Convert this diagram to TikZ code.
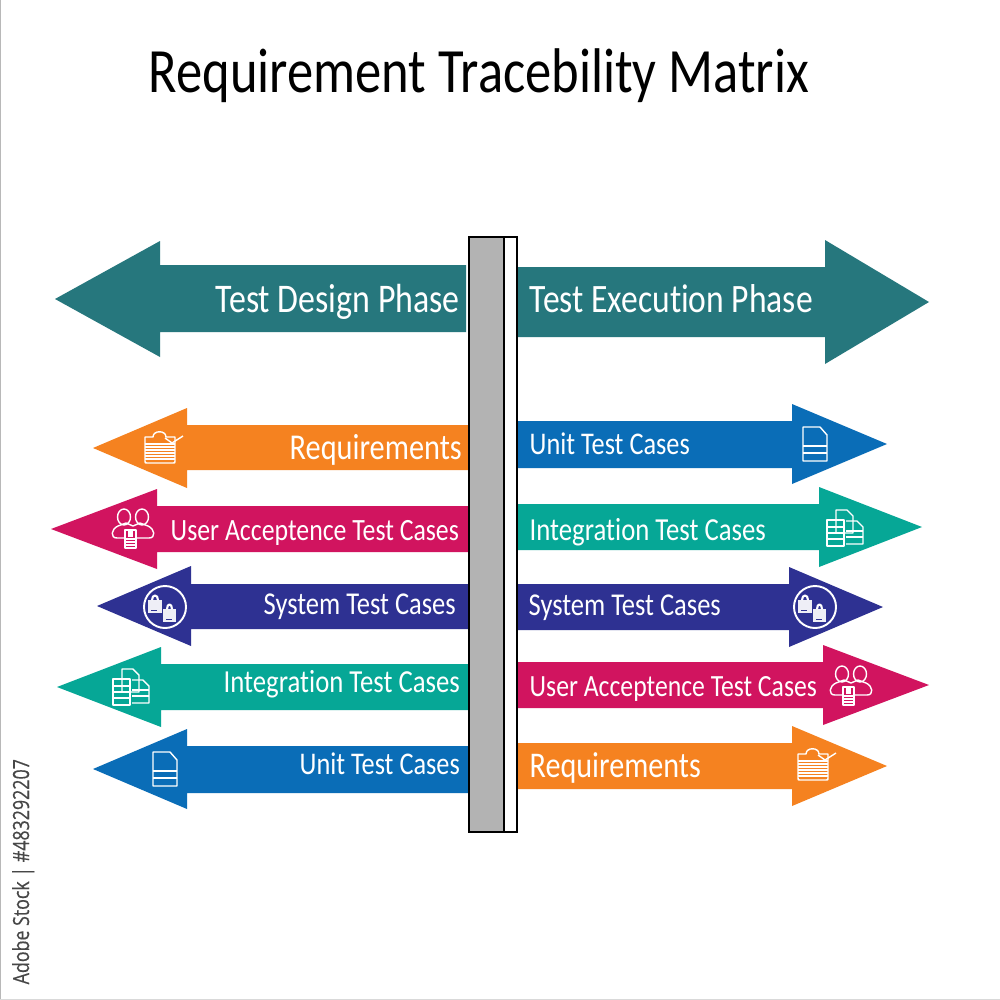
\documentclass[tikz,border=0pt]{standalone}
\usepackage{graphicx}
\usepackage{fontspec}
\setmainfont[Ligatures={NoCommon}]{Carlito}
\newfontfamily\stockfont[FakeBold=0.4]{Open Sans}
\newdimen\pxlen \pxlen=0.28453pt
\newcommand{\fitw}[2]{\scalebox{1}[1.2]{\resizebox{#1\pxlen}{!}{#2}}}
\definecolor{cphase}{HTML}{26777D}
\definecolor{corange}{HTML}{F58220}
\definecolor{cmagenta}{HTML}{D1145F}
\definecolor{cnavy}{HTML}{2E3192}
\definecolor{cteal}{HTML}{06A796}
\definecolor{cblue}{HTML}{0A6DB7}
\definecolor{cpillar}{HTML}{B3B3B3}
\tikzset{
  lbl/.style={anchor=base west,inner sep=0pt,text=white,font=\fontsize{14}{14}\selectfont},
  iconline/.style={draw=white,line width=0.4pt,fill=none,line join=round},
  pillarline/.style={draw=black,line width=0.6pt},
  pics/docicon/.style={code={
    \path[iconline] (-12,-17) -- (5,-17) -- (12,-9) -- (12,17) -- (-12,17) -- cycle;
    \path[iconline] (-12,2) -- (12,2) (-12,9) -- (12,9);
  }},
  pics/clipicon/.style={code={
    \path[iconline] (-15,-13) -- (-7,-13) .. controls (-7,-20) and (6,-20) .. (6,-13) -- (15,-13) -- (15,11) .. controls (15,13) .. (13,13) -- (-13,13) .. controls (-15,13) .. (-15,11) -- cycle;
    \path[iconline] (-15,-6) -- (15,-6) (-15,-3) -- (15,-3) (-15,0) -- (15,0) (-15,3) -- (15,3) (-15,6) -- (15,6) (-15,9) -- (15,9);
    \path[iconline] (5,-12) -- (12,-7) -- (23,-14);
  }},
  pics/usersicon/.style={code={
    \path[iconline] (-9,-12) ellipse[x radius=6.5,y radius=8];
    \path[iconline] (9,-12) ellipse[x radius=6.5,y radius=8];
    \path[iconline] (-8,9) -- (-16,9) .. controls (-23,9) and (-22,0) .. (-15,-3) -- (-7,-6) -- (0,-3) -- (7,-6) -- (15,-3) .. controls (22,0) and (23,9) .. (16,9) -- (3,9);
    \path[iconline,fill=cmagenta] (-8,1) rectangle (3,19);
    \path[fill=white] (-5,1) rectangle (0,8);
    \foreach \yy in {10,13,16} \path[iconline] (-8,\yy) -- (3,\yy);
  }},
  pics/bagicon/.style={code={
    \path[iconline,line width=0.55pt] (0,0) circle[radius=21];
    \path[fill=white,opacity=.92] (-17,-7) rectangle (-3,6);
    \path[iconline,line width=0.6pt] (-13,-7) .. controls (-13,-13) and (-7,-13) .. (-7,-7);
    \path[draw=cnavy,line width=0.2pt] (-14,3) -- (-8,3);
    \path[fill=white,opacity=.92] (-2,2) rectangle (11,15);
    \path[iconline,line width=0.6pt] (2,2) .. controls (2,-4) and (7,-4) .. (7,2);
    \path[draw=cnavy,line width=0.2pt] (1,12) -- (7,12);
  }},
  pics/multiicon/.style={code={
    \path[iconline] (-9,-18) -- (2,-18) -- (8,-12) -- (8,5) -- (-9,5) -- cycle;
    \path[iconline] (-18,-8) -- (-1,-8) -- (-1,18) -- (-18,18) -- cycle;
    \path[iconline] (-18,-1) -- (-1,-1) (-18,5) -- (-1,5) (-18,11) -- (-1,11);
    \path[iconline] (1,-7) -- (12,-7) -- (18,-1) -- (18,16) -- (1,16);
    \path[iconline] (1,3) -- (18,3) (1,9) -- (18,9);
  }},
}
% tip x, tip y, base x, head half height, shaft half height above, shaft half below, open end x, colour
\newcommand{\flatarrow}[8]{\fill[#8] (#1,#2) -- (#3,#2-#4) -- (#3,#2-#5) -- (#7,#2-#5) -- (#7,#2+#6) -- (#3,#2+#6) -- (#3,#2+#4) -- cycle;}
\begin{document}
\begin{tikzpicture}[x=0.01cm,y=-0.01cm]
\useasboundingbox (0,0) rectangle (1000,1000);
\fill[white] (0,0) rectangle (1000,1000);
\fill[black!28] (0,0) rectangle (1.5,1000);
\fill[black!15] (0,998.5) rectangle (1000,1000);

\node[anchor=base west,inner sep=0pt] (title) at (148,93) {\fitw{660}{Requirement Tracebility Matrix}};

% big phase arrows
\flatarrow{55}{299}{160}{58}{34}{33}{466}{cphase}
\flatarrow{929}{302}{825}{62}{35}{35}{517}{cphase}

% left arrows
\flatarrow{93}{448}{187}{40}{23}{22}{468}{corange}
\flatarrow{51}{529}{157}{40}{23}{23}{468}{cmagenta}
\flatarrow{97}{606}{191}{40}{22}{23}{468}{cnavy}
\flatarrow{57}{687}{161}{40}{23}{23}{468}{cteal}
\flatarrow{93}{769}{187}{40}{23}{24}{468}{cblue}

% right arrows
\flatarrow{887}{444}{792}{40}{23}{24}{517}{cblue}
\flatarrow{922}{527}{819}{40}{23}{23}{517}{cteal}
\flatarrow{883}{607}{789}{40}{23}{23}{517}{cnavy}
\flatarrow{929}{685}{823}{40}{23}{23}{517}{cmagenta}
\flatarrow{887}{766}{792}{40}{23}{23}{517}{corange}

% pillar
\fill[cpillar] (469,237) rectangle (504,832);
\draw[pillarline] (469,237) rectangle (517,832);
\draw[pillarline] (504,237) -- (504,832);

% labels
\node[lbl] (phL) at (215,312) {\fitw{244}{Test Design Phase}};
\node[lbl] (phR) at (529,312) {\fitw{283}{Test Execution Phase}};
\node[lbl] (l1) at (289,459) {\fitw{172}{Requirements}};
\node[lbl] (l2) at (170,540) {\fitw{288}{User Acceptence Test Cases}};
\node[lbl] (l3) at (263,614) {\fitw{192}{System Test Cases}};
\node[lbl] (l4) at (223,692) {\fitw{236}{Integration Test Cases}};
\node[lbl] (l5) at (299,774) {\fitw{160}{Unit Test Cases}};
\node[lbl] (r1) at (529,454) {\fitw{160}{Unit Test Cases}};
\node[lbl] (r2) at (529,540) {\fitw{236}{Integration Test Cases}};
\node[lbl] (r3) at (528,615) {\fitw{192}{System Test Cases}};
\node[lbl] (r4) at (529,696) {\fitw{287}{User Acceptence Test Cases}};
\node[lbl] (r5) at (529,777) {\fitw{171}{Requirements}};

% icons
\pic at (160,450) {clipicon};
\pic at (133,529) {usersicon};
\pic at (165,607) {bagicon};
\pic at (131,687) {multiicon};
\pic at (165,769) {docicon};
\pic at (815,444) {docicon};
\pic at (845,528) {multiicon};
\pic at (815,607) {bagicon};
\pic at (851,686) {usersicon};
\pic at (813,767) {clipicon};

\node[anchor=base west,inner sep=0pt,rotate=90,text=black!72,font=\stockfont] (stock) at (29,985) {\scalebox{1}[1.25]{\resizebox{225\pxlen}{!}{Adobe Stock | \#483292207}}};
\end{tikzpicture}
\end{document}
